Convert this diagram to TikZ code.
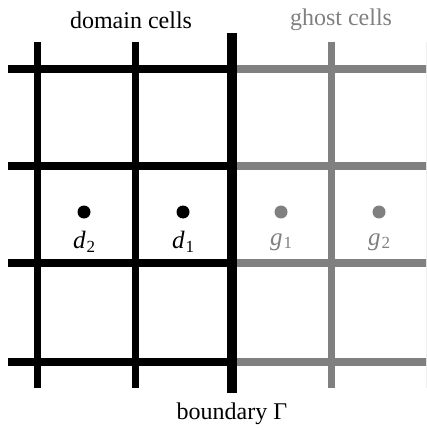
\documentclass[tikz,border=0pt]{standalone}
\usepackage{fontspec}
\setmainfont{Liberation Serif}
\definecolor{ghost}{RGB}{128,128,128}
\newcommand{\cellvar}[2]{{\itshape #1}\kern1pt\raisebox{-0.14em}{\fontsize{17}{17}\selectfont #2}}
\begin{document}
\begin{tikzpicture}[x=1pt,y=-1pt,
  hline/.style={line width=8pt},
  vline/.style={line width=7pt},
  bline/.style={line width=9.5pt},
  lbl/.style={font=\fontsize{24}{28}\selectfont, inner sep=0pt},
  mlbl/.style={font=\fontsize{25}{28}\selectfont, inner sep=0pt},
  dot/.style={circle, inner sep=0pt, minimum size=13pt}]
\useasboundingbox (0,0) rectangle (426,430);
\clip (0,0) rectangle (426,430);
% grid lines
\foreach \y in {69,166,263,362} {
  \draw[hline,black] (8,\y) -- (232,\y);
  \draw[hline,ghost] (232,\y) -- (440,\y);
}
\foreach \x in {37,135} \draw[vline,black] (\x,42) -- (\x,388);
\foreach \x in {331,429} \draw[vline,ghost] (\x,42) -- (\x,388);
\draw[bline,black] (232,33) -- (232,393);
% dots
\node[dot,fill=black] (d2) at (84,212) {};
\node[dot,fill=black] (d1) at (183,212) {};
\node[dot,fill=ghost] (g1) at (281,212) {};
\node[dot,fill=ghost] (g2) at (379,212) {};
\node[mlbl] (ld2) at (84,242) {\cellvar{d}{2}};
\node[mlbl] (ld1) at (183,242) {\cellvar{d}{1}};
\node[mlbl,text=ghost] (lg1) at (281,242) {\cellvar{g}{1}};
\node[mlbl,text=ghost] (lg2) at (379,242) {\cellvar{g}{2}};
% labels
\node[lbl] (dom) at (131,20) {domain cells};
\node[lbl,text=ghost] (gho) at (341,20) {ghost cells};
\node[lbl] (bnd) at (232,414) {boundary Γ};
\end{tikzpicture}
\end{document}
